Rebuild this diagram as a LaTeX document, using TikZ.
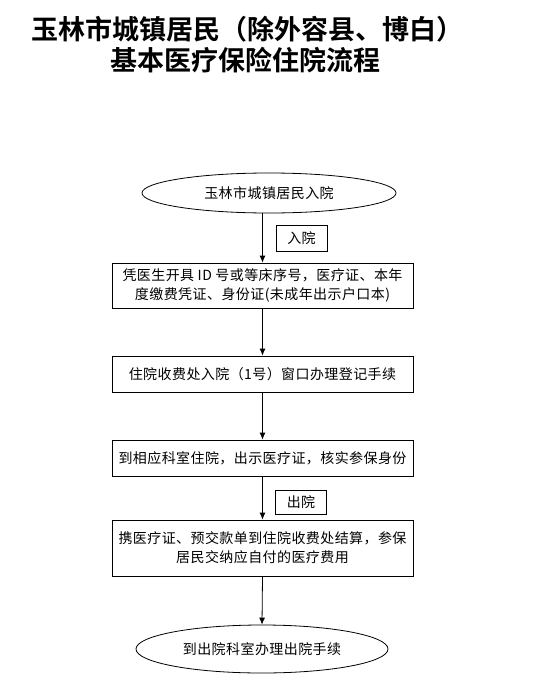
\documentclass[tikz,border=0pt]{standalone}
\usepackage{fontspec}
\newfontfamily\cjk[LetterSpace=3]{Noto Sans CJK SC}
\newfontfamily\cjkbold{Noto Sans CJK SC Bold}
\usetikzlibrary{shapes.geometric,arrows.meta}
\begin{document}
\begin{tikzpicture}[x=1pt,y=-1pt,
  every node/.style={font=\cjk\fontsize{14}{19}\selectfont, inner sep=0pt},
  stepbox/.style={draw, line width=0.8pt, minimum width=301pt, align=center},
  oval/.style={draw, line width=0.8pt, ellipse},
  tagbox/.style={draw, line width=0.8pt, minimum width=51pt, minimum height=26pt},
  conn/.style={draw, line width=0.8pt, -{Latex[length=7pt,width=6pt]}}
]
\useasboundingbox (0,0) rectangle (541,685);
\node[font=\cjkbold\fontsize{27}{32}\selectfont] (t1) at (247,29) {玉林市城镇居民（除外容县、博白）};
\node[font=\cjkbold\fontsize{27}{32}\selectfont] (t2) at (245,60) {基本医疗保险住院流程};

\node[oval, minimum width=254pt, minimum height=40pt] (e1) at (269,193) {玉林市城镇居民入院};
\node[stepbox, minimum height=45pt] (b1) at (262.5,285.5) {凭医生开具 ID 号或等床序号，医疗证、本年\\度缴费凭证、身份证(未成年出示户口本)};
\node[stepbox, minimum height=36pt] (b2) at (262.5,374) {住院收费处入院（1号）窗口办理登记手续};
\node[stepbox, minimum height=36pt] (b3) at (262.5,458) {到相应科室住院，出示医疗证，核实参保身份};
\node[stepbox, minimum height=56pt] (b4) at (262.5,548) {携医疗证、预交款单到住院收费处结算，参保\\居民交纳应自付的医疗费用};
\node[oval, minimum width=252pt, minimum height=48pt] (e2) at (262,649) {到出院科室办理出院手续};

\node[tagbox] (l1) at (301.5,238.5) {入院};
\node[tagbox, minimum height=24pt] (l2) at (301,502) {出院};

\draw[conn] (e1.south -| b1.north) -- (b1.north);
\draw[conn] (b1.south) -- (b2.north);
\draw[conn] (b2.south) -- (b3.north);
\draw[conn] (b3.south) -- (b4.north);
\draw[conn] (b4.south) -- (e2.north);
\end{tikzpicture}
\end{document}
